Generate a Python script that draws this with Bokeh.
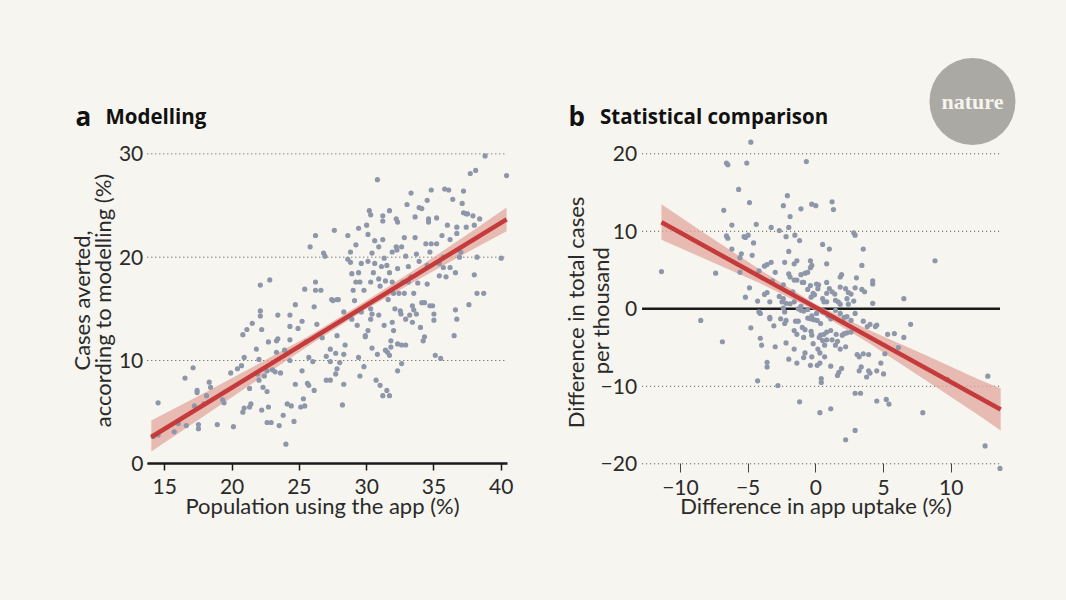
import math
from bokeh.plotting import figure
from bokeh.layouts import row
from bokeh.models import Label, FixedTicker
from bokeh.embed import file_html
from bokeh.resources import INLINE

BG = "#f7f5ef"
DOT = "#8e96a9"
RED = "#c53a3a"
BAND = "#e2a59d"
INK = "#2a2a2a"
GRID = "#4a4a4a"
FONT = "Lato"
HEAD = "Open Sans"

# ---- panel a: modelling ----
a_x = [
    14.13, 14.5, 14.5, 15.7, 16.0, 16.5, 16.6, 17.1, 17.2, 17.4,
    17.4, 17.5, 17.5, 17.9, 18.1, 18.3, 18.4, 18.9, 19.3, 19.4,
    19.9, 20.1, 20.4, 20.7, 20.9, 20.8, 21.1, 20.8, 20.9, 21.3,
    21.3, 21.4, 21.5, 21.8, 21.9, 22.0, 22.0, 22.1, 22.1, 22.1,
    22.2, 22.2, 22.3, 22.4, 22.6, 22.6, 22.6, 22.7, 22.7, 22.8,
    22.9, 23.0, 23.2, 23.3, 23.4, 23.3, 23.4, 23.5, 23.6, 23.8,
    23.9, 24.0, 24.1, 24.3, 24.3, 24.3, 24.3, 24.4, 24.6, 24.7,
    24.7, 24.9, 25.1, 25.2, 25.2, 25.3, 25.4, 25.4, 25.5, 25.6,
    25.7, 25.7, 25.8, 26.0, 26.1, 26.1, 26.2, 26.2, 26.2, 26.3,
    26.6, 26.7, 26.8, 26.9, 27.0, 27.0, 27.3, 27.3, 27.3, 27.4,
    27.5, 27.6, 27.7, 27.7, 27.8, 27.8, 27.8, 27.9, 28.0, 28.2,
    28.3, 28.3, 28.3, 28.4, 28.6, 28.6, 28.8, 28.8, 28.9, 28.9,
    29.0, 29.1, 29.2, 29.2, 29.3, 29.4, 29.4, 29.4, 29.5, 29.5,
    29.6, 29.6, 29.8, 29.8, 29.9, 29.9, 30.0, 30.1, 30.1, 30.1,
    30.2, 30.3, 30.3, 30.3, 30.3, 30.4, 30.4, 30.4, 30.5, 30.6,
    30.6, 30.7, 30.8, 30.8, 30.9, 30.9, 30.9, 31.0, 31.0, 31.1,
    31.2, 31.2, 31.2, 31.2, 31.3, 31.3, 31.4, 31.4, 31.5, 31.5,
    31.55, 31.6, 31.7, 31.7, 31.7, 31.7, 31.8, 31.8, 31.9, 31.9,
    31.9, 32.0, 32.0, 32.1, 32.2, 32.2, 32.25, 32.3, 32.3, 32.3,
    32.3, 32.4, 32.5, 32.55, 32.6, 32.6, 32.6, 32.7, 32.8, 32.8,
    32.9, 32.9, 32.9, 33.0, 33.1, 33.1, 33.2, 33.3, 33.3, 33.4,
    33.4, 33.5, 33.5, 33.6, 33.6, 33.7, 33.7, 33.8, 33.9, 33.9,
    34.0, 34.1, 34.1, 34.2, 34.3, 34.3, 34.4, 34.5, 34.5, 34.5,
    34.6, 34.6, 34.7, 34.7, 34.8, 34.8, 34.9, 35.0, 35.0, 35.1,
    35.2, 35.2, 35.4, 35.4, 35.5, 35.6, 35.7, 35.7, 35.8, 35.9,
    36.0, 36.1, 36.2, 36.2, 36.4, 36.5, 36.6, 36.6, 36.7, 36.7,
    36.7, 36.9, 37.0, 37.1, 37.2, 37.2, 37.4, 37.4, 37.5, 37.6,
    37.7, 37.9, 38.0, 38.0, 38.1, 38.2, 38.2, 38.4, 38.7, 38.8,
    40.0, 40.4,
]
a_y = [
    2.65, 2.8, 5.9, 3.1, 3.9, 8.3, 3.7, 9.3, 5.6, 7.1,
    6.9, 3.4, 3.8, 5.8, 6.6, 7.9, 7.4, 3.8, 6.2, 5.9,
    8.8, 3.6, 9.2, 9.5, 10.3, 12.5, 13.0, 5.0, 5.4, 7.3,
    5.5, 5.8, 13.6, 11.1, 8.7, 8.1, 10.1, 17.3, 14.8, 14.3,
    13.0, 5.2, 7.4, 8.5, 7.0, 9.0, 4.0, 11.8, 5.5, 17.8,
    4.0, 9.1, 8.9, 11.9, 12.1, 10.8, 14.4, 3.7, 8.8, 4.7,
    11.0, 1.9, 5.8, 14.4, 13.3, 12.0, 10.0, 5.6, 4.1, 7.7,
    15.4, 13.1, 5.5, 13.8, 9.0, 6.3, 5.6, 16.9, 11.8, 7.8,
    10.3, 7.6, 21.0, 9.9, 7.1, 15.2, 17.6, 16.8, 22.1, 13.5,
    16.8, 12.2, 20.4, 20.1, 10.4, 8.1, 11.1, 9.9, 8.1, 15.9,
    15.8, 22.6, 10.7, 8.7, 9.2, 15.9, 12.4, 15.9, 9.8, 5.7,
    10.6, 7.7, 14.7, 11.5, 22.1, 19.8, 19.5, 20.5, 18.4, 14.0,
    16.8, 15.8, 17.6, 21.2, 13.4, 22.8, 18.5, 10.3, 8.5, 17.6,
    14.7, 19.4, 16.8, 9.4, 12.3, 12.4, 23.1, 22.2, 12.9, 19.6,
    24.5, 24.1, 17.6, 15.0, 14.0, 14.5, 11.2, 20.4, 18.5, 19.4,
    21.6, 8.1, 27.5, 10.6, 17.9, 14.4, 21.0, 17.2, 7.6, 19.1,
    6.6, 23.5, 24.0, 21.7, 13.4, 19.9, 17.7, 11.0, 7.1, 19.2,
    10.8, 15.9, 18.5, 10.5, 6.6, 24.5, 11.3, 11.9, 13.7, 20.5,
    17.6, 16.5, 12.9, 15.0, 23.7, 21.0, 20.7, 23.4, 18.9, 11.6,
    9.0, 16.5, 14.8, 14.5, 21.0, 9.7, 11.5, 17.6, 21.9, 16.5,
    11.5, 20.1, 14.0, 25.1, 19.1, 17.6, 14.4, 26.2, 18.1, 13.7,
    15.3, 14.9, 16.5, 21.9, 23.9, 20.3, 14.5, 17.5, 19.6, 24.8,
    13.2, 24.7, 15.6, 11.9, 12.3, 15.6, 21.3, 19.2, 17.4, 25.5,
    23.4, 23.7, 15.3, 20.5, 21.3, 26.5, 15.3, 14.5, 13.9, 10.5,
    23.8, 21.3, 18.2, 19.4, 10.2, 22.1, 20.0, 19.0, 26.6, 18.1,
    23.1, 26.5, 19.0, 21.7, 25.6, 12.4, 14.9, 18.5, 22.9, 14.0,
    22.3, 20.0, 20.5, 25.2, 24.3, 26.4, 24.2, 22.9, 24.2, 15.4,
    28.1, 24.0, 18.3, 23.1, 28.4, 16.5, 20.0, 23.7, 16.5, 29.8,
    19.9, 27.9,
]
a_fit_x = [14.0, 40.4]
a_fit_y = [2.6, 23.66]
a_band_x = [14.0, 18.0, 22.0, 26.0, 30.0, 34.0, 38.0, 40.4]
a_band_lo = [1.2, 4.7, 8.2, 11.7, 15.0, 17.95, 20.85, 22.5]
a_band_hi = [4.2, 6.9, 9.7, 12.6, 15.8, 19.15, 22.65, 24.8]
a_xticks = [15, 20, 25, 30, 35, 40]
a_yticks = [0, 10, 20, 30]
a_xlim = [13.7, 40.45]

# ---- panel b: statistical comparison ----
b_x = [
    -5.3, -5.0, -4.6, -2.7, -2.2, -1.55, -1.2, 2.8, 2.9, -4.7,
    0.5, 1.0, -2.0, 3.5, -5.5, -5.6, -3.8, -3.6, -3.3, -2.3,
    -1.6, -1.4, -0.4, -0.3, 0.8, -3.0, -2.0, -1.9, -1.6, -1.4,
    -1.1, -0.8, -0.6, -0.4, -1.0, -0.9, -2.4, -3.2, -4.9, -4.2,
    1.8, 1.9, 3.0, 3.4, 4.2, 4.2, 0.8, 0.2, 0.05, 1.0,
    0.8, 1.2, 1.4, 1.8, 2.2, 2.6, 2.4, 3.4, 3.6, 2.9,
    -0.4, -0.2, -0.6, 0.15, -0.35, -0.1, -1.7, -2.4, -2.7, -3.6,
    -3.8, -4.3, -5.2, -3.4, -2.5, -2.2, -1.9, -1.6, 0.5, 0.6,
    0.8, 1.45, 1.65, 1.8, 2.3, 2.4, 2.8, 4.2, 6.5, -1.1,
    -1.3, -1.1, -0.9, -0.6, -2.4, -2.3, -4.2, -4.1, -3.4, -3.4,
    -2.6, -2.2, -2.3, -1.5, -1.3, -0.6, -0.4, -0.3, -0.15, 0.1,
    0.35, 0.05, 0.5, 0.9, 1.1, 1.45, 1.8, 2.1, 2.3, 2.0,
    2.6, 2.9, 3.5, 3.8, 4.0, 4.4, 4.5, 7.0, -4.8, -3.1,
    -1.6, -1.0, -0.8, -1.4, -0.9, -0.35, -0.3, 0.25, 0.35, 0.6,
    0.8, 1.1, 1.5, 1.95, 2.1, 2.3, 2.6, 0.5, 0.8, 1.2,
    1.6, 1.45, 1.8, 2.2, 0.65, 0.15, -0.2, -1.6, -2.2, -3.0,
    -4.0, -4.1, -2.0, -0.9, -0.3, 0.3, 0.65, -0.8, -1.4, -0.4,
    0.1, 0.3, 1.1, 1.9, 1.7, 1.6, 3.05, 3.2, 3.5, 3.9,
    3.35, 3.2, 3.9, 4.0, 3.75, 4.5, 5.0, 4.8, 5.1, 5.3,
    5.8, 6.5, 6.1, -3.6, -3.6, -4.3, -2.8, 0.4, 0.4, 2.9,
    3.3, -1.2, 1.1, 4.5, 5.2, 5.4, -4.8, -6.6, -6.5, -5.1,
    -0.7, -5.7, -4.9, -6.8, -6.2, -2.1, -2.4, -1.9, -1.1, -0.3,
    0.0, 1.2, 1.3, -4.4, -3.3, -2.0, -6.6, -6.5, -11.4, -7.4,
    -6.2, -5.6, -8.5, -6.9, 8.8, 7.9, 9.7, 12.7, 12.5, 13.6,
    2.2, 2.9, 0.3, -5.2,
]
b_y = [
    9.3, 9.5, 8.5, 10.1, 9.3, 9.5, 8.8, 9.8, 9.5, 6.9,
    8.3, 7.7, 7.4, 7.7, 7.1, 4.7, 5.5, 5.7, 6.0, 6.0,
    5.8, 6.2, 6.2, 5.6, 5.8, 4.7, 4.5, 4.1, 3.7, 3.7,
    4.4, 4.6, 4.7, 5.3, 3.4, 3.4, 3.1, 3.6, 2.7, 4.9,
    4.1, 4.4, 4.0, 5.6, 3.6, 3.2, 3.4, 3.1, 3.2, 2.6,
    2.0, 2.2, 1.9, 2.8, 2.6, 1.9, 2.1, 2.5, 2.2, 2.7,
    3.0, 2.0, 2.5, 2.6, 1.5, 1.8, 2.2, 1.3, 1.6, 2.1,
    1.85, 1.0, 1.5, 0.9, 0.9, 0.7, 0.65, 0.9, 1.3, 0.9,
    0.9, 1.1, 0.9, 0.6, 1.3, 0.6, 1.0, 0.7, 1.3, 0.3,
    0.0, -0.2, -0.3, -0.1, 0.1, -0.4, -0.4, -0.6, -1.1, -1.3,
    -1.3, -1.5, -1.9, -1.6, -1.6, -1.2, -1.3, -0.9, -1.4, -1.5,
    -1.9, -0.6, -0.4, -0.9, -1.3, -0.2, -0.6, -1.1, -1.0, -1.7,
    -1.5, -0.6, -1.6, -2.3, -2.0, -2.3, -2.1, -2.0, -2.45, -2.2,
    -2.8, -2.4, -2.7, -3.3, -3.7, -2.9, -3.4, -3.7, -3.4, -3.3,
    -3.0, -2.8, -3.3, -3.4, -3.2, -3.1, -3.0, -4.1, -4.0, -4.0,
    -4.2, -4.7, -5.2, -4.9, -4.7, -5.2, -4.5, -5.2, -4.4, -4.9,
    -4.7, -3.8, -6.5, -6.3, -6.2, -5.7, -6.2, -5.7, -7.0, -7.3,
    -7.3, -7.0, -7.4, -7.7, -8.2, -8.6, -5.9, -6.2, -5.8, -5.9,
    -7.5, -8.0, -8.0, -8.3, -8.8, -8.0, -8.4, -7.0, -5.8, -3.3,
    -3.2, -3.7, -5.0, -6.9, -7.5, -9.3, -9.9, -9.0, -9.5, -10.9,
    -10.9, -12.0, -12.9, -11.9, -11.7, -12.3, 21.5, 18.8, 18.6, 18.8,
    19.0, 15.4, 13.7, 12.7, 10.8, 14.6, 13.3, 11.9, 12.9, 13.5,
    13.3, 13.8, 12.8, 10.9, 10.5, 10.5, 9.4, 9.1, 4.8, 4.6,
    7.7, 6.6, -1.5, -4.25, 6.2, -13.4, -9.1, -8.7, -17.7, -20.6,
    -16.9, -15.7, -13.4, 9.2,
]
b_fit_x = [-11.4, 13.65]
b_fit_y = [11.16, -12.99]
b_band_x = [-11.4, -8.0, -4.0, 0.0, 4.0, 8.0, 12.0, 13.65]
b_band_lo = [8.9, 6.3, 3.2, -0.3, -4.5, -9.1, -13.7, -15.7]
b_band_hi = [13.5, 9.5, 4.9, 0.6, -2.8, -5.9, -9.1, -10.3]
b_xticks = [-10, -5, 0, 5, 10]
b_yticks = [-20, -10, 0, 10, 20]
b_xlim = [-12.83, 13.6]

H = 580


def minus(ticks):
    return {t: str(t).replace("-", "\u2212") for t in ticks if t < 0}


def base_fig(width, x_range, y_range, xlim, yticks, yloc):
    # frame fills the whole canvas; axes sit at fixed data positions
    p = figure(width=width, height=H, x_range=x_range, y_range=y_range,
               output_backend="svg", toolbar_location=None, min_border=0,
               background_fill_color=BG, border_fill_color=BG,
               outline_line_color=None)
    p.grid.grid_line_color = None
    # dotted gridlines limited to the data area
    p.multi_line(xs=[xlim] * len(yticks), ys=[[t, t] for t in yticks],
                 line_color=GRID, line_dash="1 3", line_width=1)
    for ax in (p.xaxis, p.yaxis):
        ax.minor_tick_line_color = None
        ax.major_label_text_font = FONT
        ax.major_label_text_font_size = "21px"
        ax.major_label_text_color = INK
    p.xaxis.fixed_location = yloc
    p.xaxis.bounds = tuple(xlim)
    p.yaxis.fixed_location = xlim[0]
    p.yaxis.ticker = FixedTicker(ticks=yticks)
    p.yaxis.axis_line_color = None
    p.yaxis.major_tick_line_color = None
    p.yaxis.major_tick_in = 0
    p.yaxis.major_tick_out = 0
    return p


def text(p, x, y, s, size="22px", font=FONT, bold=False, color=INK,
         align="left", angle=0.0):
    p.add_layout(Label(x=x, y=y, x_units="screen", y_units="screen", text=s,
                       text_font=font, text_font_size=size,
                       text_font_style="bold" if bold else "normal",
                       text_color=color, text_align=align,
                       text_baseline="alphabetic", angle=angle))


# panel a
pa = base_fig(533, (2.79, 42.40), (-11.29, 44.84), a_xlim, a_yticks, 0)
pa.xaxis.ticker = FixedTicker(ticks=a_xticks)
pa.xaxis.axis_line_color = "#1a1a1a"
pa.xaxis.axis_line_width = 2.5
pa.xaxis.major_tick_line_color = "#1a1a1a"
pa.xaxis.major_tick_line_width = 1.5
pa.xaxis.major_tick_in = 0
pa.xaxis.major_tick_out = 7
pa.xaxis.major_label_standoff = 8
pa.yaxis.major_label_standoff = 4

pa.varea(x=a_band_x, y1=a_band_lo, y2=a_band_hi, fill_color=BAND, fill_alpha=0.75)
pa.scatter(a_x, a_y, size=5.2, fill_color=DOT, line_color=None)
pa.line(a_fit_x, a_fit_y, line_color=RED, line_width=4.5)

text(pa, 75, 464.5, "a", size="26px", font=HEAD, bold=True, color="#111111")
text(pa, 105, 464.5, "Modelling", size="20.5px", font=HEAD, bold=True, color="#111111")
text(pa, 81, 280, "Cases averted,", align="center", angle=math.pi / 2)
text(pa, 102, 280, "according to modelling (%)", align="center", angle=math.pi / 2)
text(pa, 322, 75, "Population using the app (%)", align="center")

# panel b
pb = base_fig(525, (-20.85, 17.92), (-35.06, 39.78), b_xlim, b_yticks, -20)
pb.xaxis.ticker = FixedTicker(ticks=b_xticks)
pb.xaxis.major_label_overrides = minus(b_xticks)
pb.yaxis.major_label_overrides = minus(b_yticks)
pb.xaxis.axis_line_color = None
pb.xaxis.major_tick_line_color = "#444444"
pb.xaxis.major_tick_line_width = 1
pb.xaxis.major_tick_in = 0
pb.xaxis.major_tick_out = 9
pb.xaxis.major_label_standoff = 7
pb.yaxis.major_label_standoff = 5

# solid reference line at zero
pb.line(b_xlim, [0, 0], line_color="#1a1a1a", line_width=2.5)

pb.varea(x=b_band_x, y1=b_band_lo, y2=b_band_hi, fill_color=BAND, fill_alpha=0.75)
pb.scatter(b_x, b_y, size=5.2, fill_color=DOT, line_color=None)
pb.line(b_fit_x, b_fit_y, line_color=RED, line_width=4.5)

text(pb, 35, 464.5, "b", size="26px", font=HEAD, bold=True, color="#111111")
text(pb, 66.5, 464.5, "Statistical comparison", size="20.5px", font=HEAD, bold=True, color="#111111")
text(pb, 42, 268, "Difference in total cases", align="center", angle=math.pi / 2)
text(pb, 67, 270, "per thousand", align="center", angle=math.pi / 2)
text(pb, 282.5, 75, "Difference in app uptake (%)", align="center")

# journal badge (padding given as horizontal, vertical)
pb.add_layout(Label(x=439, y=479, x_units="screen", y_units="screen",
                    text="nature", text_font="Liberation Serif",
                    text_font_style="bold", text_font_size="22px",
                    text_color="#f6f4ef", text_align="center",
                    text_baseline="middle", background_fill_color="#aaa9a4",
                    padding=(12, 31), border_radius=43))

layout = row(pa, pb)
html = file_html(layout, INLINE)
html = html.replace("</head>", "<style>body{background:%s}</style></head>" % BG, 1)
open("out.html", "w").write(html)
